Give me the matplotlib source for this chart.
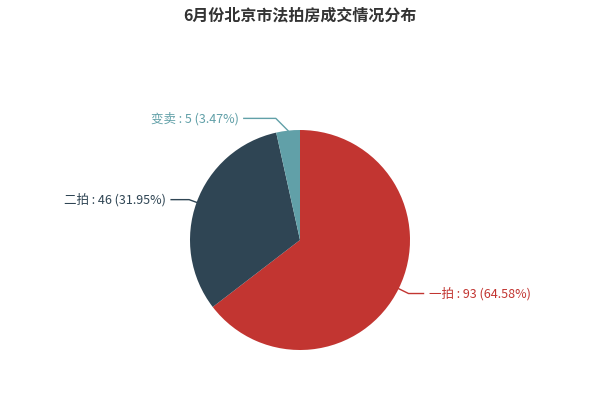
import numpy as np
import matplotlib
matplotlib.use("Agg")
import matplotlib.pyplot as plt

plt.rcParams['font.family'] = ['Noto Sans CJK SC', 'DejaVu Sans']

title = "6月份北京市法拍房成交情况分布"
names = ["一拍", "二拍", "变卖"]
counts = [93, 46, 5]
colors = ["#c23531", "#2f4554", "#61a0a8"]

# label line styling (first segment, horizontal segment, elbow angle nudge)
len1 = [11, 8, 14]
len2 = [15, 18, 32]
nudge = [0, 0, 5]


def percents(vals, digits=2):
    # largest remainder so the shares add up to 100
    scale = 10 ** digits
    raw = np.array(vals, dtype=float) / sum(vals) * 100 * scale
    base = np.floor(raw)
    left = int(100 * scale - base.sum())
    order = np.argsort(-(raw - base))
    for k in order[:left]:
        base[k] += 1
    return base / scale


fig = plt.figure(figsize=(6, 4), dpi=100)
ax = fig.add_axes([0, 0, 1, 1])

cx, cy, r = 300, 160, 110
wedges, _ = ax.pie(counts, colors=colors, startangle=90, counterclock=False,
                   center=(cx, cy), radius=r, frame=True,
                   wedgeprops=dict(linewidth=0))
ax.set_xlim(0, 600)
ax.set_ylim(0, 400)
ax.set_aspect("equal")
ax.axis("off")

pcts = percents(counts)
for i, w in enumerate(wedges):
    mid = np.deg2rad((w.theta1 + w.theta2) / 2)
    p0 = (cx + r * np.cos(mid), cy + r * np.sin(mid))
    a1 = mid + np.deg2rad(nudge[i])
    p1 = (cx + (r + len1[i]) * np.cos(a1), cy + (r + len1[i]) * np.sin(a1))
    side = 1 if np.cos(mid) >= 0 else -1
    p2 = (p1[0] + side * len2[i], p1[1])
    ax.plot([p0[0], p1[0], p2[0]], [p0[1], p1[1], p2[1]],
            color=colors[i], lw=1)
    ax.text(p2[0] + side * 5, p2[1], f"{names[i]} : {counts[i]} ({pcts[i]:.2f}%)",
            color=colors[i], fontsize=9, va="center",
            ha="left" if side > 0 else "right")

ax.text(300, 385, title, ha="center", va="center", fontsize=11.5,
        fontweight="bold", color="#333333")

fig.savefig("out.png", dpi=100)
